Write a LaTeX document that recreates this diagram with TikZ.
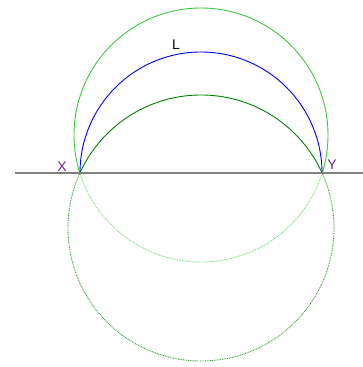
\documentclass[tikz,border=0pt]{standalone}
\usepackage{fontspec}
\setmainfont{Liberation Sans}
\begin{document}
\begin{tikzpicture}[x=1pt,y=-1pt,
  lbl/.style={font=\fontsize{14}{14}\selectfont, inner sep=0pt},
  dotline/.style={dash pattern=on 0.8pt off 0.9pt}]
\useasboundingbox (0,0) rectangle (363,367);
\coordinate (X) at (80,173);
\coordinate (Y) at (322,173);
\coordinate (A) at (15,173);
\coordinate (B) at (363,173);
\coordinate (C1) at (201,135);
\coordinate (C2) at (201,228);
\coordinate (C3) at (201,173);
% upper parts
\begin{scope}
\clip (0,0) rectangle (363,173);
\draw[line width=0.9pt, draw={rgb,255:red,60;green,200;blue,60}] (C1) circle (127);
\draw[line width=0.9pt, draw={rgb,255:red,0;green,128;blue,0}] (C2) circle (133);
\draw[draw=blue, line width=0.9pt] (C3) circle (121);
\end{scope}
% lower parts
\begin{scope}
\clip (0,173) rectangle (363,367);
\draw[dotline, line width=0.9pt, draw={rgb,255:red,110;green,220;blue,110}] (C1) circle (127);
\draw[dotline, line width=0.9pt, draw={rgb,255:red,40;green,150;blue,40}] (C2) circle (133);
\end{scope}
\draw[line width=1.3pt, draw={rgb,255:red,128;green,128;blue,128}] (A) -- (B);
\node[lbl, text={rgb,255:red,102;green,34;blue,136}] (xl) at (62,166.5) {X};
\node[lbl, text={rgb,255:red,102;green,34;blue,136}] (yl) at (332,165) {Y};
\node[lbl] (ll) at (176,45) {L};
\end{tikzpicture}
\end{document}
